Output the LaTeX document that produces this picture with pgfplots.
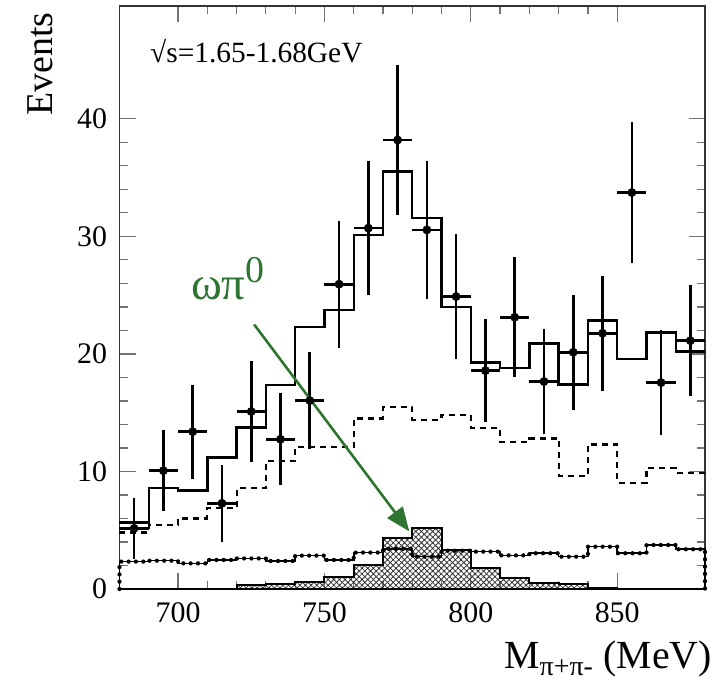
\documentclass[border=0pt]{standalone}
\usepackage{fontspec}
\setmainfont{Liberation Serif}
\usepackage{pgfplots}
\pgfplotsset{compat=1.18}
\usepackage{pgfplotstable}
\usetikzlibrary{patterns.meta,arrows.meta}
\definecolor{omegagreen}{RGB}{46,117,50}

\pgfplotstableread{
x y ey
685 5.16 2.6
695 10.07 3.45
705 13.39 4.0
715 7.29 3.3
725 15.1 4.3
735 12.74 3.9
745 16.03 4.1
755 25.93 5.4
765 30.7 5.7
775 38.2 6.4
785 30.55 5.9
795 24.88 5.35
805 18.58 4.4
815 23.12 5.1
825 17.65 4.5
835 20.14 4.9
845 21.76 4.9
855 33.73 6.0
865 17.56 4.5
875 21.13 4.74
}\datapts

\pgfplotstableread{
x y
680 5.65
690 8.57
700 8.37
710 11.2
720 13.73
730 17.36
740 22.27
750 23.74
760 30.13
770 35.52
780 31.54
790 23.97
800 19.26
810 18.78
820 20.9
830 17.4
840 22.84
850 19.55
860 21.82
870 20.2
880 20.2
}\total

\pgfplotstableread{
x y
680 4.8
690 5.45
700 6.0
710 6.87
720 8.57
730 10.9
740 12.1
750 12.1
760 14.5
770 15.5
780 14.4
790 14.8
800 13.7
810 12.5
820 12.8
830 9.6
840 12.3
850 9.05
860 10.3
870 9.9
880 9.9
}\dashed

\pgfplotstableread{
x y
680 0
710 0
720 0.3
730 0.43
740 0.62
750 1.05
760 2.04
770 4.31
780 5.17
790 3.32
800 1.76
810 0.91
820 0.55
830 0.4
840 0.12
850 0
880 0
}\hatch

\pgfplotstableread{
x y
680 0
680 2.33
690 2.41
700 2.18
710 2.47
720 2.6
730 2.38
740 2.84
750 2.47
760 3.1
770 3.42
780 2.75
790 3.26
800 3.18
810 2.86
820 3.04
830 2.75
840 3.6
850 3.04
860 3.74
870 3.38
880 3.38
880 0
}\bead

\begin{document}
\begin{tikzpicture}
\begin{axis}[
  scale only axis,
  width=585.5bp, height=583bp,
  xmin=680, xmax=880, ymin=0, ymax=49.6,
  xtick={700,750,800,850}, minor x tick num=4,
  ytick={0,10,20,30,40}, minor y tick num=4,
  xtick pos=both, ytick pos=both,
  tick align=inside,
  major tick length=16bp, minor tick length=8bp,
  every tick/.style={black!55, line width=1.2bp},
  axis line style={black!80, line width=1.3bp},
  tick label style={font=\fontsize{30}{30}\selectfont},
  /pgf/number format/assume math mode=true,
  xticklabel style={yshift=-10bp},
  yticklabel style={xshift=-9bp},
  clip=false,
]
\coordinate (bbsw) at (rel axis cs:0,0);
\coordinate (bbne) at (rel axis cs:1,1);

\addplot[const plot, draw=black, line width=2bp,
  pattern={Hatch[angle=45,distance=4bp,line width=0.8bp]}, pattern color=black!80]
  table {\hatch} \closedcycle;

\addplot[const plot, black, line width=1.6bp] table {\bead};
\addplot[const plot, black, line width=4.3bp, line cap=round, dash pattern=on 0pt off 7.3bp] table {\bead};

\addplot[const plot, black, line width=2.2bp, dash pattern=on 6bp off 5bp] table {\dashed};
\addplot[const plot, black, line width=2.4bp] table {\total};

\addplot[only marks, mark=*, mark size=4.2bp, black,
  error bars/.cd, x dir=both, x fixed=5, y dir=both, y explicit,
  error bar style={line width=2.6bp, black}, error mark=none]
  table[x=x, y=y, y error=ey] {\datapts};

\draw[omegagreen, line width=2.6bp, -{Triangle[length=24bp,width=19bp]}]
  (axis cs:726,22.5) -- (axis cs:779,4.9);
\node[anchor=base west, text=omegagreen, font=\fontsize{47}{47}\selectfont, inner sep=0pt]
  at (axis cs:704.4,24.6) {ωπ\raisebox{17bp}{\fontsize{38}{38}\selectfont 0}};

\node[anchor=base west, font=\fontsize{29.5}{30}\selectfont, inner sep=0pt]
  at ([xshift=30.5bp,yshift=-57bp]rel axis cs:0,1) {√s=1.65-1.68GeV};
\node[rotate=90, font=\fontsize{38}{38}\selectfont]
  at ([xshift=-79bp,yshift=-58bp]rel axis cs:0,1) {Events};
\node[anchor=base east, font=\fontsize{40}{40}\selectfont, inner sep=0pt]
  at ([xshift=7bp,yshift=-79bp]rel axis cs:1,0) {M\textsubscript{π+π-} (MeV)};
\end{axis}
\pgfresetboundingbox
\path ([xshift=-119.5bp,yshift=-98bp]bbsw) rectangle ([xshift=22bp,yshift=6bp]bbne);
\end{tikzpicture}
\end{document}
